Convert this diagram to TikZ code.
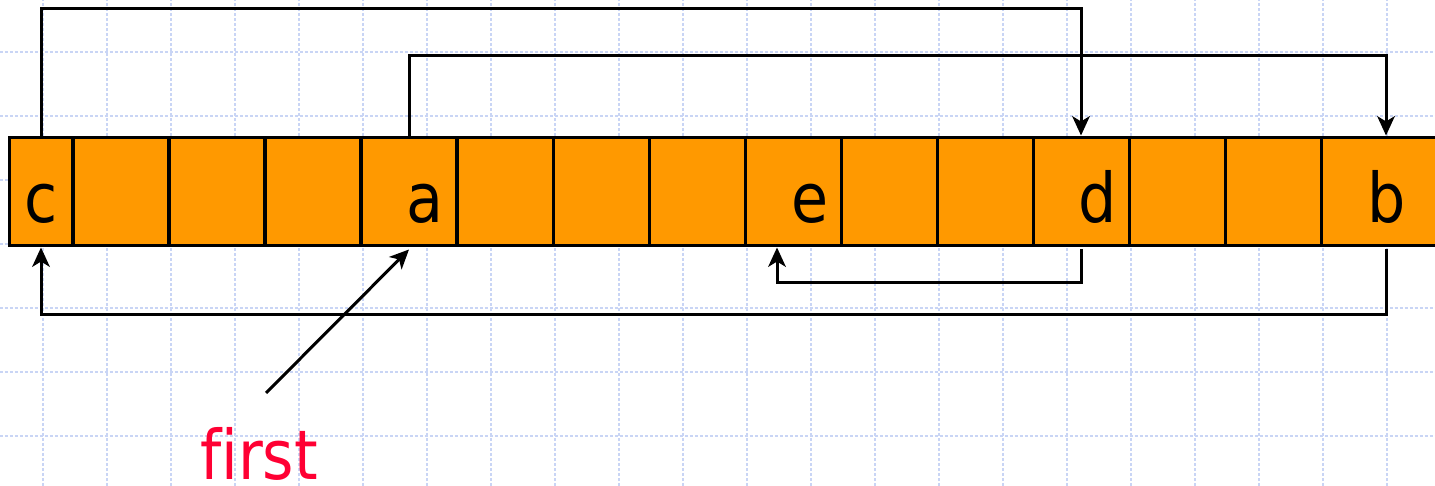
\documentclass[tikz,border=0pt]{standalone}
\usepackage{fontspec}
\usetikzlibrary{arrows.meta,positioning}
\usepackage{xcolor}
\newfontfamily\cellfont[FakeStretch=0.88,Ligatures=NoCommon]{DejaVu Sans}
\definecolor{cellfill}{HTML}{FF9900}
\definecolor{gridblue}{HTML}{C9D5F5}
\definecolor{firstred}{HTML}{FF0033}

\begin{document}
\begin{tikzpicture}[
  x=0.02cm, y=0.02cm,
  cell/.style={draw=black, fill=cellfill, line width=0.06cm, inner sep=0pt, minimum width=1.92cm, minimum height=2.18cm},
  letter/.style={anchor=base, inner sep=0pt, text depth=0pt, font=\cellfont\fontsize{39}{40}\selectfont},
  arr/.style={-{Stealth[length=11pt,width=10pt,inset=3pt]}, line width=0.06cm, color=black},
  gridline/.style={gridblue, line width=0.04cm, dash pattern=on 0.06cm off 0.04cm},
]
\useasboundingbox (0,0) rectangle (1435,486);
\clip (0,0) rectangle (1435,486);

\foreach \k in {0,...,21} \draw[gridline] ({43+64*\k},0) -- ({43+64*\k},486);
\foreach \k in {0,...,6} \draw[gridline] (0,{50+64*\k}) -- (1435,{50+64*\k});

\node[cell, minimum width=1.28cm] (cell0) at (41,294.5) {};
\foreach \i in {1,...,13} \node[cell] (cell\i) at ({25+96*\i},294.5) {};
\node[cell, minimum width=2.6cm] (cell14) at (1386,294.5) {};

\node[letter] (letc) at (41,263) {c};
\node[letter] (leta) at (425,263) {a};
\node[letter] (lete) at (810,263) {e};
\node[letter] (letd) at (1098,263) {d};
\node[letter] (letb) at (1387,263) {b};

\draw[arr] (cell0.north) -- ++(0,127) -| (cell11.north);
\draw[arr] (cell4.north) -- ++(0,80) -| (cell14.north);
\draw[arr] ([yshift=-0.04cm]cell11.south) -- ++(0,-33) -| ([xshift=-0.32cm]cell8.south);
\draw[arr] ([yshift=-0.04cm]cell14.south) -- ++(0,-65) -| (cell0.south);

\node[letter, text=firstred] (first) at (259,6) {first};
\coordinate (firsttail) at (266,93);
\draw[arr] (firsttail) -- ([yshift=-0.04cm]cell4.south);

\end{tikzpicture}
\end{document}
